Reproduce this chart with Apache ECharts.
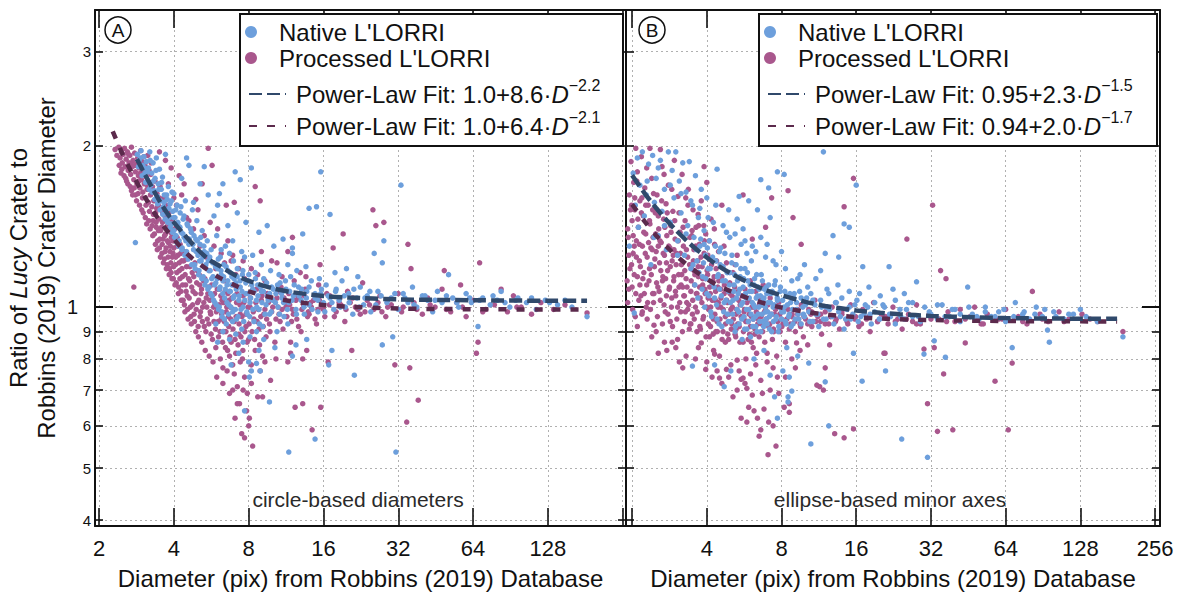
<!DOCTYPE html>
<html><head><meta charset="utf-8">
<script src="https://cdn.jsdelivr.net/npm/echarts@6/dist/echarts.min.js"></script>
<style>html,body{margin:0;padding:0;background:#fff}#c{width:1180px;height:597px}</style>
</head><body><div id="c"></div>
<script>
// ---------- tick values ----------
const xTicks = [2,4,8,16,32,64,128,256];
const xLabelsA = [2,4,8,16,32,64,128];
const xLabelsB = [4,8,16,32,64,128,256];
const yTicks = [0.4,0.5,0.6,0.7,0.8,0.9,1,2,3];
const yMajor = [1];

// ---------- panel A: circle-based diameters ----------
const procA = [
[2.32,1.97],[2.36,1.92],[2.4,1.99],[2.43,1.9],[2.46,1.95],[2.48,1.86],[2.5,1.93],[2.53,1.98],[2.55,1.83],[2.57,1.89],[2.6,1.95],[2.62,1.8],[2.64,1.86],[2.66,1.92],[2.68,1.77],[2.7,1.99],[2.72,1.83],[2.74,1.88],[2.76,1.73],[2.78,1.94],[2.8,1.79],[2.82,1.85],[2.84,1.7],[2.86,1.9],[2.88,1.76],[2.9,1.82],[2.92,1.67],[2.94,1.96],[2.96,1.73],[2.98,1.87],[3.0,1.64],[3.02,1.79],[3.04,1.7],[3.06,1.84],[3.08,1.6],[3.1,1.75],[3.12,1.66],[3.14,1.92],[3.16,1.57],[3.18,1.8],[3.2,1.71],[3.22,1.62],[3.24,1.86],[3.26,1.54],[3.28,1.68],
[2.45,1.78],[2.58,1.72],[2.7,1.65],[2.8,1.62],[2.76,1.09],
[3.3,1.45],[3.32,1.58],[3.34,1.37],[3.36,1.72],[3.38,1.5],[3.4,1.41],[3.42,1.63],[3.44,1.33],[3.46,1.55],[3.48,1.46],[3.5,1.29],[3.52,1.68],[3.54,1.39],[3.56,1.52],[3.58,1.26],[3.6,1.44],[3.62,1.34],[3.64,1.6],[3.66,1.23],[3.68,1.48],[3.7,1.37],[3.72,1.29],[3.74,1.55],[3.76,1.2],[3.78,1.42],[3.8,1.32],[3.82,1.5],[3.84,1.18],[3.86,1.27],[3.88,1.38],[3.9,1.16],[3.92,1.45],[3.94,1.24],[3.96,1.33],[3.98,1.13],[4.0,1.29],[4.03,1.4],[4.06,1.2],[4.09,1.11],[4.12,1.35],[4.15,1.25],[4.18,1.09],[4.21,1.17],[4.24,1.31],[4.27,1.07],[4.3,1.22],
[4.33,1.14],[4.36,1.03],[4.4,1.27],[4.43,0.98],[4.46,1.1],[4.5,1.19],[4.53,1.05],[4.56,0.95],[4.6,1.24],[4.63,1.12],[4.66,1.0],[4.7,0.93],[4.74,1.16],[4.78,1.07],[4.82,0.97],[4.86,1.21],[4.9,0.9],[4.94,1.11],[4.98,1.02],[5.02,0.88],[5.06,1.15],[5.1,0.96],[5.14,1.06],[5.18,0.86],[5.22,1.0],[5.26,1.12],[5.3,0.92],[5.35,0.83],[5.4,1.04],[5.45,0.95],[5.5,1.09],[5.55,0.81],[5.6,0.98],[5.65,0.89],[5.7,1.05],[5.75,0.79],[5.8,0.94],[5.85,1.01],[5.9,0.84],[5.95,0.74],
[4.1,1.55],[4.3,1.62],[4.5,1.47],[4.8,1.4],[5.0,1.52],[5.3,1.36],[5.6,1.44],[4.4,1.7],[3.9,1.82],[4.2,1.76],[3.7,1.88],[3.5,1.95],[5.8,1.3],[6.2,1.26],[6.6,1.33],[5.5,1.98],[5.7,1.84],[7.0,1.57],[8.5,1.68],[8.9,1.58],[6.8,1.22],
[6.0,0.99],[6.05,0.88],[6.1,1.08],[6.15,0.8],[6.2,0.95],[6.25,1.03],[6.3,0.72],[6.35,0.9],[6.4,1.12],[6.45,0.84],[6.5,0.98],[6.55,0.76],[6.6,1.06],[6.65,0.92],[6.7,0.69],[6.75,1.0],[6.8,0.86],[6.9,0.78],[6.95,1.1],[7.0,0.94],[7.05,0.62],[7.1,0.82],[7.15,1.02],[7.2,0.71],[7.3,0.89],[7.35,0.66],[7.4,0.97],[7.5,0.58],[7.55,0.8],[7.6,1.05],[7.7,0.74],[7.8,0.92],[7.85,0.64],[7.9,0.69],[8.0,0.87],[8.05,0.62],[8.1,1.0],[8.2,0.78],[8.3,0.55],[8.4,0.95],[8.5,0.83],[8.6,1.08],[8.7,0.68],[8.8,0.91],[8.9,0.76],[9.0,1.03],[9.1,0.81],[9.2,0.97],[9.4,0.88],[9.5,1.06],[9.7,0.93],[9.8,0.73],[10.0,1.0],[10.2,0.86],
[10.4,1.04],[10.6,0.97],[10.8,1.09],[11.0,0.91],[11.2,1.02],[11.5,0.79],[11.6,1.06],[11.8,0.82],[12.0,0.99],[12.2,1.12],[12.3,0.65],[12.5,0.95],[12.8,1.04],[13.0,0.9],[13.2,0.66],[13.3,1.01],[13.5,1.08],[13.7,0.83],[14.0,0.97],[14.4,0.59],[14.6,1.03],[15.0,0.93],[15.3,1.1],[15.6,0.65],[15.8,1.0],[16.2,0.96],[16.7,0.79],[17.0,1.05],[17.5,1.29],[18.0,0.98],[18.5,1.02],[19.2,1.37],[19.5,0.94],[20.0,1.07],[20.8,0.83],[21.5,1.0],[22.5,0.97],[23.0,1.11],[24.0,1.03],[25.3,1.52],[25.5,0.99],[26.0,1.42],[27.0,1.05],[28.0,1.44],[28.5,0.96],[30.0,1.01],[31.0,0.78],
[32.0,1.06],[33.0,0.98],[34.6,0.61],[35.0,1.31],[35.6,0.77],[36.0,1.18],[37.0,1.02],[38.5,0.67],[40.0,0.97],[42.0,1.04],[45.0,1.0],[48.0,1.08],[49.0,1.17],[52.0,0.98],[55.0,1.02],[57.0,1.1],[60.0,0.96],[64.0,1.03],[66.0,0.82],[67.0,0.86],[68.0,1.21],[72.0,0.99],[78.0,1.01],[83.0,1.08],[88.0,0.98],[93.0,1.05],[100.0,1.0],[110.0,0.97],[120.0,1.02],[135.0,0.99],[150.0,1.01],[184.0,0.975],
[10.5,1.07],[11.3,1.0],[12.6,1.05],[14.2,1.02],[15.2,0.99],[16.5,1.06],[18.8,1.01],[21.0,1.04],[23.5,0.98],[26.5,1.02],[29.0,1.0],[11.9,0.94],[13.8,0.96],[9.3,1.12],[8.7,1.15],[7.7,1.13],[7.3,1.18],[6.9,1.25],[10.9,1.14],[12.9,1.16],[15.5,1.2],[9.9,1.22],
[2.41,1.84],[2.47,1.81],[2.52,1.76],[2.56,1.74],[2.61,1.7],[2.63,1.93],[2.67,1.68],[2.69,1.85],[2.73,1.62],[2.77,1.67],[2.79,1.84],[2.83,1.58],[2.87,1.63],[2.89,1.72],[2.91,1.55],[2.93,1.78],[2.97,1.52],[2.99,1.6],[3.01,1.5],[3.03,1.91],[3.07,1.47],[3.09,1.55],[3.11,1.43],[3.13,1.69],[3.17,1.45],[3.19,1.51],[3.21,1.4],[3.23,1.77],[3.27,1.42],[3.29,1.36],[3.31,1.49],[3.33,1.64],[3.37,1.31],[3.39,1.44],[3.41,1.53],[3.43,1.28],[3.47,1.39],[3.49,1.6],[3.51,1.34],[3.53,1.24],[3.57,1.41],[3.59,1.31],[3.61,1.5],[3.63,1.21],[3.67,1.36],[3.69,1.27],[3.71,1.45],[3.73,1.18],[3.77,1.33],[3.79,1.24],[3.81,1.4],[3.83,1.15],[3.87,1.3],[3.89,1.21],[3.91,1.35],[3.93,1.13],[3.97,1.26],[3.99,1.19],[4.02,1.33],[4.04,1.1],[4.07,1.24],[4.11,1.16],[4.14,1.3],[4.17,1.06],[4.2,1.21],[4.23,1.13],[4.26,1.26],[4.29,1.03],[4.31,1.18],[4.34,1.1],[4.38,1.22],[4.41,1.01],[4.44,1.15],[4.48,1.07],[4.51,1.23],[4.54,0.99],[4.58,1.13],[4.61,1.04],[4.64,1.19],[4.68,0.96],[4.72,1.09],[4.76,1.01],[4.81,1.14],[4.84,0.94],[4.88,1.06],[4.92,0.99],[4.97,1.17],[5.01,0.92],[5.04,1.03],[5.08,1.1],[5.12,0.98],[5.17,1.08],[5.21,0.94],[5.28,1.02],[5.33,1.13],[5.38,0.9],[5.43,1.0],[5.48,1.06],[5.53,0.93],[5.58,1.03],[5.63,0.97],[5.68,1.1],[5.72,0.87],[5.78,1.0],[5.83,1.06],[5.88,0.91],[5.93,0.98],[5.98,1.08],[6.03,0.94],[6.08,1.01],[6.13,0.9],[6.18,1.05],[6.23,0.97],[6.28,0.86],[6.33,1.02],[6.38,0.94],[6.43,1.07],[6.48,0.9],[6.53,1.0],[6.58,0.83],[6.63,0.96],[6.68,1.03],[6.73,0.88],[6.78,0.95],[6.85,1.04],[6.92,0.91],[6.98,0.99],[7.05,0.87],[7.12,0.96],[7.18,1.06],[7.25,0.85],[7.32,0.93],[7.38,1.01],[7.45,0.88],[7.52,0.96],[7.58,0.83],[7.65,1.02],[7.72,0.9],[7.8,0.97],[7.88,0.86],[7.95,1.0],[8.03,0.93],[8.12,1.04],[8.25,0.9],[8.35,0.98],[8.45,0.87],[8.55,1.02],[8.65,0.94],[8.75,0.99],[8.85,0.85],[8.95,0.96],[9.05,1.05],[9.15,0.92],[9.3,0.99],[9.45,0.95],[9.6,1.02],[9.75,0.9],[9.9,0.98],[10.1,1.03],[10.3,0.95],[10.5,1.0],[10.7,0.94],[10.9,0.99],[11.1,1.04],[11.4,0.96],[11.7,1.01],[12.1,0.97],[12.4,1.03],[12.7,0.92],[13.1,0.99],[13.4,1.05],[13.9,0.98],[14.3,1.0],[14.8,0.95],[15.4,1.03],[16.0,0.99],[16.9,1.01],[17.7,0.96],[18.6,1.04],[19.7,0.99],[20.5,1.02],[22.0,0.99],[24.5,1.01],[27.5,0.98],[33.5,1.0],[38.0,0.99],[43.0,1.01],[50.0,0.99],[58.0,1.0],[70.0,0.98],[96.0,1.0],
[6.3,0.77],[6.7,0.81],[7.0,0.75],[7.4,0.79],[7.2,0.66],[7.6,0.7],[8.2,0.72],[8.0,0.6],[7.7,0.57],[6.9,0.7],[9.3,0.79],[10.3,0.8],[9.1,0.68],[11.8,0.86],[13.2,0.8],
[4.6,1.45],[5.1,1.3],[5.4,1.24],[5.9,1.18],[6.4,1.21],[7.1,1.15],[7.6,1.22],[8.2,1.18],[9.0,1.27],[10.4,1.21],[11.5,1.27],[12.0,1.35],[13.6,1.14],[4.9,1.59],[6.0,1.4],[5.2,1.7],[6.5,1.55],[4.0,1.6],[3.8,1.7]
];
const nativeA = [
[2.8,1.32],[2.85,1.93],[2.9,1.88],[2.95,1.96],[3.0,1.84],[3.03,1.91],[3.06,1.78],[3.1,1.87],[3.13,1.73],[3.16,1.82],[3.2,1.95],[3.23,1.69],[3.26,1.78],[3.3,1.86],[3.33,1.65],[3.36,1.74],[3.4,1.9],[3.43,1.61],[3.46,1.7],[3.5,1.81],[3.53,1.58],[3.56,1.66],[3.6,1.75],[3.63,1.54],[3.66,1.62],[3.7,1.93],[3.73,1.5],[3.76,1.59],[3.8,1.68],
[3.83,1.47],[3.86,1.56],[3.9,1.43],[3.93,1.64],[3.96,1.51],[4.0,1.39],[4.0,1.63],[4.04,1.47],[4.08,1.36],[4.12,1.55],[4.16,1.42],[4.2,1.33],[4.24,1.5],[4.28,1.38],[4.3,1.74],[4.32,1.29],[4.36,1.46],[4.4,1.35],[4.45,1.58],[4.5,1.27],[4.5,1.9],[4.55,1.42],[4.6,1.84],[4.6,1.31],[4.65,1.24],[4.7,1.38],[4.75,1.52],[4.8,1.28],[4.8,1.57],[4.85,1.2],[4.9,1.34],[4.95,1.45],[5.0,1.25],[5.05,1.17],[5.1,1.7],[5.1,1.31],[5.15,1.22],[5.2,1.39],[5.25,1.14],[5.3,1.83],[5.3,1.27],[5.35,1.19],[5.4,1.12],[5.45,1.33],[5.5,1.62],[5.5,1.22],
[5.55,1.09],[5.6,1.17],[5.65,1.28],[5.7,1.05],[5.75,1.14],[5.8,1.21],[5.85,1.02],[5.9,1.11],[5.95,1.36],[6.0,1.55],[6.0,1.18],[6.05,0.99],[6.1,1.63],[6.1,1.08],[6.15,1.24],[6.2,1.15],[6.25,0.96],[6.3,1.7],[6.3,1.12],[6.35,1.2],[6.4,1.04],[6.45,1.3],[6.5,0.93],[6.55,1.1],[6.6,1.17],[6.65,1.01],[6.7,1.26],[6.75,1.07],[6.8,0.78],[6.85,1.14],[6.9,0.98],[6.95,1.22],[7.06,1.79],[7.0,1.05],[7.1,1.11],[7.15,0.95],[7.2,1.18],[7.3,1.03],[7.4,1.73],[7.4,1.09],[7.5,0.91],[7.55,1.15],[7.6,1.0],[7.7,0.64],[7.7,1.24],[7.8,1.06],[7.9,0.97],[8.0,0.79],[8.0,1.12],[8.05,0.74],[8.1,1.02],[8.2,1.82],[8.2,0.76],[8.3,1.08],[8.4,0.94],[8.5,1.16],[8.6,0.785],[8.6,1.03],[8.7,1.1],[8.8,0.99],[8.9,0.76],[9.0,1.07],[9.1,0.92],[9.2,1.13],[9.4,1.01],[9.5,1.05],[9.7,0.665],[9.7,0.97],[9.9,1.09],[10.0,1.03],
[10.2,0.84],[10.3,1.06],[10.5,1.0],[10.7,1.11],[10.9,1.04],[11.1,0.96],[11.3,1.08],[11.6,0.536],[11.6,1.02],[11.8,1.14],[12.0,0.81],[12.0,1.29],[12.1,1.05],[12.4,0.85],[12.4,0.99],[12.7,1.09],[13.0,1.03],[13.2,1.37],[13.4,0.97],[13.7,0.87],[13.7,1.07],[14.0,1.53],[14.0,1.01],[14.3,1.12],[14.8,0.567],[14.8,1.04],[15.0,1.54],[15.2,0.98],[15.6,1.79],[15.6,1.06],[16.0,1.02],[16.4,1.1],[16.8,0.78],[17.0,1.49],[17.0,1.04],[17.3,0.83],[17.6,0.99],[18.0,1.08],[18.5,1.03],[19.0,1.12],[19.6,1.0],[20.2,1.06],[21.0,0.97],[21.3,0.746],[21.8,1.04],[22.5,1.09],[23.2,1.01],[24.0,1.05],[24.8,0.98],[25.6,1.26],[26.5,1.07],[27.6,1.21],[27.6,0.85],[28.0,1.33],[28.8,1.02],[30.0,1.04],[30.4,0.88],[31.3,0.536],[32.0,0.99],
[32.8,1.69],[33.5,1.06],[35.0,1.02],[36.5,1.09],[38.0,1.0],[40.0,1.05],[42.0,1.03],[44.0,0.98],[46.0,1.07],[48.0,1.02],[51.0,1.15],[53.0,1.04],[56.0,1.0],[60.0,1.06],[63.0,1.02],[67.0,0.92],[70.0,1.04],[75.0,1.01],[80.0,1.03],[83.0,1.07],[90.0,1.0],[97.0,1.04],[105.0,1.02],[115.0,0.99],[125.0,1.03],[140.0,1.01],[160.0,1.0],[184.0,0.96],
[6.2,1.28],[6.9,1.33],[7.5,1.27],[8.3,1.25],[9.0,1.2],[9.8,1.17],[10.6,1.15],[11.5,1.2],[12.5,1.17],[13.6,1.19],[15.4,1.13],[17.8,1.16],[19.8,1.18],[22.0,1.14],[12.0,1.26],[10.1,1.3],[8.8,1.38],[7.8,1.44],[7.2,1.5],[6.6,1.42],[5.8,1.48],[9.5,1.42],[11.0,1.34],
[2.88,1.83],[2.93,1.9],[2.98,1.76],[3.04,1.82],[3.08,1.71],[3.14,1.79],[3.18,1.66],[3.21,1.88],[3.27,1.64],[3.31,1.72],[3.35,1.59],[3.39,1.8],[3.44,1.56],[3.48,1.66],[3.52,1.52],[3.57,1.71],[3.61,1.49],[3.65,1.57],[3.69,1.46],[3.74,1.62],[3.78,1.44],[3.82,1.53],[3.87,1.41],[3.91,1.58],[3.95,1.38],[3.99,1.47],[4.03,1.35],[4.07,1.52],[4.11,1.32],[4.15,1.44],[4.19,1.3],[4.23,1.41],[4.27,1.54],[4.31,1.28],[4.35,1.37],[4.39,1.48],[4.43,1.25],[4.47,1.33],[4.52,1.43],[4.57,1.23],[4.62,1.34],[4.67,1.4],[4.72,1.2],[4.77,1.31],[4.82,1.36],[4.87,1.18],[4.92,1.27],[4.97,1.33],[5.03,1.15],[5.08,1.22],[5.13,1.35],[5.18,1.13],[5.23,1.24],[5.28,1.3],[5.33,1.1],[5.38,1.2],[5.43,1.26],[5.48,1.08],[5.53,1.17],[5.58,1.24],[5.63,1.06],[5.68,1.13],[5.73,1.21],[5.78,1.03],[5.83,1.1],[5.88,1.19],[5.93,1.01],[5.98,1.13],[6.04,1.23],[6.09,1.0],[6.14,1.09],[6.19,1.17],[6.24,0.98],[6.29,1.06],[6.34,1.14],[6.39,0.95],[6.44,1.08],[6.49,1.19],[6.54,1.02],[6.59,1.12],[6.64,0.97],[6.69,1.07],[6.74,1.16],[6.79,1.0],[6.84,1.1],[6.89,0.94],[6.94,1.04],[6.99,1.13],[7.07,0.99],[7.13,1.08],[7.19,1.14],[7.25,0.96],[7.33,1.05],[7.39,1.12],[7.45,0.99],[7.52,1.07],[7.58,1.17],[7.64,0.94],[7.72,1.03],[7.79,1.11],[7.86,0.98],[7.93,1.06],[8.01,1.15],[8.08,0.96],[8.15,1.04],[8.23,1.1],[8.32,0.99],[8.41,1.07],[8.52,1.13],[8.62,1.0],[8.72,1.05],[8.83,0.93],[8.93,1.09],[9.05,1.02],[9.17,1.07],[9.3,0.97],[9.45,1.11],[9.58,1.03],[9.72,1.06],[9.86,0.98],[10.05,1.08],[10.25,1.02],[10.45,1.1],[10.65,0.97],[10.85,1.06],[11.05,1.02],[11.25,1.12],[11.45,0.99],[11.7,1.07],[11.95,1.03],[12.2,1.1],[12.45,0.97],[12.75,1.05],[13.05,1.08],[13.35,1.0],[13.65,1.04],[14.0,1.09],[14.4,0.99],[14.8,1.06],[15.2,1.03],[15.7,1.08],[16.2,0.98],[16.7,1.05],[17.3,1.02],[17.9,1.07],[18.7,1.0],[19.4,1.05],[20.3,1.02],[21.2,1.08],[22.3,1.0],[23.5,1.04],[24.6,1.07],[26.0,1.01],[27.3,1.05],[29.0,1.03],[31.0,1.06],[34.0,1.04],[37.0,1.01],[41.0,1.05],[45.0,1.03],[50.0,1.05],[55.0,1.02],[62.0,1.04],[68.0,1.03],[77.0,1.05],[86.0,1.02],[95.0,1.03],[110.0,1.04],[130.0,1.02],[150.0,1.03],
[5.9,0.93],[6.3,0.9],[6.7,0.87],[7.1,0.89],[7.6,0.86],[8.1,0.88],[8.6,0.9],[9.2,0.87],[10.4,0.9],[11.5,0.93],[7.3,0.82],[8.8,0.83],[6.0,0.86]
];
// fitted curves
const fitNatA_D = [2.84,3,3.25,3.5,3.75,4,4.5,5,5.5,6,7,8,10,12,16,20,32,64,128,184];
const fitNatA_R = [1.89,1.80,1.68,1.58,1.50,1.44,1.35,1.28,1.23,1.20,1.15,1.12,1.084,1.066,1.049,1.042,1.034,1.030,1.028,1.028];
const fitProA_D = [2.27,2.5,2.75,3,3.5,4,4.5,5,6,7,8,10,12,16,20,32,64,128,184];
const fitProA_R = [2.13,1.92,1.76,1.63,1.45,1.34,1.26,1.21,1.14,1.10,1.07,1.041,1.025,1.009,1.002,0.994,0.991,0.990,0.990];

// ---------- panel B: ellipse-based minor axes ----------
const procB = [
[1.92,1.02],[1.93,1.35],[1.95,1.62],[1.96,1.18],[1.98,1.87],[2.0,1.45],[2.0,1.09],[2.02,1.26],[2.03,1.71],[2.05,1.52],[2.06,0.96],[2.07,1.98],[2.08,1.33],[2.1,1.14],[2.1,1.79],[2.12,1.41],[2.14,1.22],[2.15,1.58],[2.17,1.05],[2.18,1.91],[2.2,1.3],[2.22,1.48],[2.23,1.16],[2.25,1.67],[2.27,1.37],[2.28,1.0],[2.3,0.95],[2.3,1.24],[2.32,1.55],[2.34,1.12],[2.36,1.98],[2.36,1.43],[2.38,1.29],[2.4,1.74],[2.42,1.06],[2.43,1.35],[2.45,0.925],[2.46,1.19],[2.48,1.5],[2.5,0.9],[2.5,1.27],[2.52,1.62],[2.54,1.09],[2.56,1.4],[2.58,1.21],[2.6,1.97],[2.6,1.03],[2.62,1.32],[2.64,1.83],[2.66,1.14],[2.68,1.46],[2.7,1.25],[2.72,0.98],[2.74,1.56],[2.76,0.83],[2.76,1.36],[2.78,1.17],[2.8,1.69],[2.82,1.08],[2.84,1.29],[2.86,1.42],[2.88,1.0],[2.9,0.86],[2.9,1.22],[2.92,1.51],[2.94,1.12],[2.96,1.88],[2.98,1.34],
[3.0,1.05],[3.02,1.26],[3.05,0.87],[3.06,1.61],[3.08,1.15],[3.1,0.79],[3.12,1.38],[3.14,0.98],[3.16,1.2],[3.18,1.77],[3.2,1.09],[3.22,1.3],[3.25,0.94],[3.27,1.45],[3.3,1.13],[3.32,1.02],[3.35,1.24],[3.37,1.66],[3.4,0.91],[3.42,1.35],[3.45,1.07],[3.47,1.18],[3.5,0.97],[3.52,1.52],[3.55,1.28],[3.57,1.1],[3.6,1.0],[3.62,1.41],[3.65,0.9],[3.68,1.22],[3.7,0.84],[3.7,1.14],[3.73,1.31],[3.76,1.04],[3.8,0.857],[3.8,1.58],[3.83,1.19],[3.86,0.95],[3.9,1.26],[3.9,1.83],[3.93,1.08],[3.96,0.765],[3.96,1.37],[4.0,1.71],[4.0,1.0],[4.03,1.15],[4.06,0.93],[4.1,0.88],[4.1,1.23],[4.13,1.06],[4.16,1.46],[4.2,0.97],[4.23,1.12],[4.26,0.83],[4.3,0.817],[4.3,1.31],[4.33,1.03],[4.36,1.18],[4.4,0.76],[4.4,0.94],[4.43,1.09],[4.46,1.27],[4.5,0.81],[4.5,0.737],
[4.55,1.0],[4.6,1.55],[4.6,1.14],[4.65,0.9],[4.7,1.06],[4.75,0.96],[4.8,0.765],[4.8,1.21],[4.85,1.02],[4.9,0.87],[4.95,1.11],[5.0,0.78],[5.0,0.99],[5.05,0.93],[5.1,0.68],[5.1,1.16],[5.15,1.04],[5.2,0.89],[5.25,0.97],[5.3,0.796],[5.3,1.25],[5.35,1.07],[5.4,0.76],[5.4,0.92],[5.45,1.01],[5.5,0.733],[5.5,0.62],[5.55,1.13],[5.6,1.62],[5.6,0.86],[5.6,0.737],[5.65,0.98],[5.7,1.08],[5.75,0.8],[5.8,0.705],[5.8,0.61],[5.85,0.94],[5.9,0.65],[5.9,1.03],[5.95,0.89],[6.0,1.12],[6.05,0.96],[6.1,0.685],[6.1,1.34],[6.15,0.84],[6.2,0.64],[6.2,1.0],[6.25,0.91],[6.3,1.07],[6.35,0.82],[6.4,0.62],[6.4,0.97],[6.5,0.574],[6.5,0.88],[6.55,1.04],[6.6,0.59],[6.65,0.93],[6.7,0.69],[6.75,1.1],[6.8,0.645],[6.85,0.86],[6.9,1.41],[6.9,0.99],[7.0,0.79],[7.06,0.53],[7.1,0.61],[7.1,0.92],[7.2,0.7],[7.2,1.04],[7.3,1.6],[7.35,0.87],[7.4,0.6],[7.5,0.97],[7.6,0.55],[7.65,0.81],[7.7,0.74],[7.8,1.02],[7.9,0.9],
[8.0,0.95],[8.2,0.65],[8.3,0.86],[8.5,1.65],[8.5,0.99],[8.6,0.66],[8.6,0.636],[8.7,0.93],[8.9,1.47],[8.9,1.04],[9.1,0.77],[9.1,0.9],[9.2,0.857],[9.3,0.97],[9.6,1.31],[9.6,1.01],[9.8,0.88],[10.0,0.95],[10.3,0.99],[10.6,0.92],[10.9,1.03],[11.1,0.715],[11.2,0.96],[11.4,0.71],[11.6,0.89],[11.8,0.7],[12.0,0.77],[12.0,0.98],[12.4,0.93],[12.8,1.0],[13.1,0.58],[13.3,0.95],[13.7,0.91],[14.0,0.98],[14.3,0.57],[14.3,1.54],[14.7,0.94],[15.2,1.01],[15.6,0.592],[15.6,1.74],[15.9,0.96],[16.4,0.92],[17.0,0.99],[17.6,0.95],[18.2,0.9],[18.8,1.02],[19.5,0.94],[20.2,0.97],[20.7,0.82],[20.9,0.82],[21.5,0.93],[22.5,1.0],[23.5,0.95],[24.5,0.91],[25.6,1.34],[26.0,0.97],[27.0,0.94],[28.0,1.01],[29.0,0.93],[30.0,0.835],
[31.0,0.66],[31.5,0.97],[32.5,1.55],[33.0,0.84],[34.0,0.586],[34.5,0.95],[35.0,1.17],[36.0,0.75],[36.8,1.13],[37.5,0.98],[39.2,0.59],[40.0,0.94],[42.0,0.99],[44.0,0.857],[46.0,0.96],[48.0,1.0],[51.0,0.93],[54.0,0.97],[58.0,0.727],[60.0,0.95],[64.0,0.99],[65.6,0.59],[68.0,0.786],[72.0,0.96],[78.0,0.93],[82.0,1.07],[88.0,0.97],[95.0,0.94],[105.0,0.98],[115.0,0.95],[130.0,0.97],[150.0,0.94],[190.0,0.9],
[2.15,1.1],[2.35,1.18],[2.55,1.3],[2.75,1.05],[2.95,1.28],[3.15,1.1],[3.35,0.99],[3.55,1.17],[3.75,0.92],[3.95,1.13],[4.15,1.0],[4.35,0.9],[4.55,1.08],[4.75,0.86],[5.05,1.05],[5.25,0.91],[5.65,0.95],[6.05,0.86],[6.45,0.95],[6.95,0.93],[7.45,0.9],[8.1,0.93],[8.8,0.96],[9.5,0.93],[10.5,0.97],[11.5,0.94],[2.2,0.98],[2.45,1.06],[2.65,1.12],[2.85,0.94],[3.05,1.0],[3.25,1.05],[3.45,0.93],[3.65,1.06],[3.85,1.1],[4.05,1.04],[4.25,0.95],[4.45,1.02],[1.94,1.25],[1.99,1.55],[2.04,1.3],[2.09,1.72],[2.19,1.6],[2.29,1.82],[2.44,1.63],[2.69,1.77],[2.89,1.66],[3.09,1.5],[3.29,1.6],[3.49,1.39],[3.69,1.49],[3.89,1.42],[4.09,1.33],[4.29,1.4],[4.69,1.3],[5.2,1.2],
[1.91,1.12],[1.92,1.4],[1.94,1.08],[1.97,1.52],[1.99,1.2],[2.01,0.99],[2.02,1.36],[2.04,1.15],[2.05,1.6],[2.07,1.06],[2.08,1.24],[2.11,1.46],[2.13,1.03],[2.14,1.31],[2.16,1.19],[2.18,1.5],[2.19,0.97],[2.21,1.13],[2.23,1.38],[2.24,1.06],[2.26,1.26],[2.27,1.55],[2.29,1.1],[2.31,1.02],[2.33,1.32],[2.35,1.45],[2.37,0.99],[2.39,1.15],[2.41,1.28],[2.42,1.52],[2.44,1.02],[2.47,1.23],[2.49,1.37],[2.51,1.11],[2.53,0.96],[2.55,1.48],[2.57,1.07],[2.59,1.33],[2.61,1.17],[2.63,1.58],[2.65,0.93],[2.67,1.26],[2.69,1.01],[2.71,1.41],[2.73,1.13],[2.75,1.21],[2.77,1.5],[2.79,0.97],[2.81,1.3],[2.83,1.09],[2.85,1.19],[2.87,1.38],[2.89,1.04],[2.91,0.92],[2.93,1.25],[2.95,1.14],[2.97,1.45],[2.99,1.07],[3.01,1.2],[3.03,0.95],[3.07,1.33],[3.09,1.09],[3.11,1.02],[3.13,1.26],[3.17,1.15],[3.19,0.9],[3.21,1.41],[3.23,1.05],[3.26,1.17],[3.28,0.98],[3.31,1.28],[3.33,1.09],[3.36,1.55],[3.38,1.01],[3.41,1.2],[3.43,0.93],[3.46,1.12],[3.48,1.36],[3.51,1.03],[3.53,1.22],[3.56,0.95],[3.58,1.15],[3.61,1.3],[3.63,1.06],[3.66,0.98],[3.69,1.19],[3.71,1.42],[3.74,1.09],[3.77,0.91],[3.79,1.24],[3.82,1.02],[3.85,1.13],[3.88,0.96],[3.91,1.33],[3.94,1.06],[3.97,0.88],[4.01,1.17],[4.04,1.25],[4.07,0.99],[4.11,1.09],[4.14,0.92],[4.18,1.2],[4.21,1.03],[4.24,0.89],[4.28,1.14],[4.31,0.97],[4.34,1.07],[4.38,1.22],[4.41,0.9],[4.44,1.0],[4.47,1.12],[4.52,0.95],[4.56,1.04],[4.61,0.87],[4.66,0.99],[4.71,1.1],[4.76,0.93],[4.81,1.03],[4.86,0.89],[4.91,0.97],[4.96,1.06],[5.02,0.91],[5.07,1.0],[5.12,0.95],[5.18,1.09],[5.23,0.88],[5.28,0.99],[5.33,0.93],[5.38,1.03],[5.44,0.86],[5.5,0.96],[5.56,1.05],[5.62,0.9],[5.68,0.99],[5.74,0.94],[5.81,1.02],[5.87,0.87],[5.93,0.97],[6.0,0.92],[6.08,1.0],[6.16,0.95],[6.24,0.89],[6.33,0.98],[6.42,0.93],[6.52,1.01],[6.62,0.96],[6.72,0.9],[6.83,0.98],[6.94,0.95],[7.05,1.01],[7.17,0.93],[7.3,0.97],[7.43,0.91],[7.57,0.99],[7.72,0.94],[7.87,0.97],[8.03,0.92],[8.2,0.99],[8.4,0.95],[8.6,0.91],[8.82,0.97],[9.05,0.94],[9.3,0.99],[9.55,0.92],[9.85,0.96],[10.2,0.93],[10.6,0.98],[11.0,0.94],[11.5,0.97],[12.0,0.93],[12.6,0.96],[13.2,0.94],[14.0,0.97],[14.8,0.93],[15.8,0.95],[16.8,0.93],[18.0,0.96],[19.5,0.94],[21.0,0.96],[23.0,0.94],[25.5,0.95],[28.0,0.93],[32.0,0.95],[37.0,0.94],[44.0,0.95],[52.0,0.93],[62.0,0.95],[75.0,0.94],[90.0,0.95],[110.0,0.94],[140.0,0.95],
[2.1,0.92],[2.4,0.88],[2.7,0.86],[3.0,0.84],[3.3,0.81],[3.6,0.8],[4.0,0.79],[4.2,0.74],[4.6,0.72],[4.9,0.74],[5.3,0.7],[5.7,0.72],[6.0,0.75],[6.3,0.78],[6.6,0.73],[7.0,0.82],[7.4,0.77],[7.8,0.69],[8.3,0.74],[8.8,0.8],[9.5,0.83],[10.2,0.85],[12.5,0.85],[3.2,0.77],[2.55,0.82]
];
const nativeB = [
[1.95,1.3],[2.02,1.78],[2.04,0.975],[2.06,1.55],[2.1,1.9],[2.12,1.41],[2.15,1.69],[2.2,1.95],[2.24,1.48],[2.28,1.62],[2.33,1.85],[2.38,1.2],[2.42,1.92],[2.46,1.57],[2.5,1.74],[2.55,1.36],[2.6,1.88],[2.64,1.51],[2.7,1.66],[2.75,1.28],[2.8,1.95],[2.85,1.44],[2.9,1.8],[2.95,1.6],[3.0,1.95],[3.05,1.33],[3.1,1.72],[3.15,1.5],[3.2,1.86],[3.25,1.25],[3.3,1.64],[3.35,1.42],[3.4,1.87],[3.45,1.18],[3.5,0.776],[3.5,1.55],[3.55,1.35],[3.6,1.76],[3.65,1.22],[3.7,1.47],[3.75,1.3],[3.8,1.66],[3.85,1.14],[3.9,1.39],[3.95,1.25],[4.0,1.6],[4.0,1.06],
[4.05,1.18],[4.1,1.33],[4.15,0.98],[4.2,1.11],[4.25,1.44],[4.3,0.78],[4.3,1.04],[4.35,1.22],[4.4,1.81],[4.4,0.95],[4.45,1.15],[4.5,1.08],[4.55,1.29],[4.6,0.92],[4.65,1.19],[4.7,0.71],[4.7,1.02],[4.75,1.12],[4.8,1.38],[4.85,0.97],[4.9,1.52],[4.9,1.07],[4.95,1.16],[5.0,0.76],[5.0,0.94],[5.05,1.25],[5.1,1.03],[5.15,1.1],[5.2,0.9],[5.25,1.2],[5.3,1.46],[5.3,0.99],[5.35,1.06],[5.4,1.61],[5.4,0.93],[5.45,1.14],[5.5,1.01],[5.55,0.87],[5.6,1.4],[5.6,1.09],[5.65,0.96],[5.7,1.18],[5.75,1.04],[5.8,0.91],[5.85,1.12],[5.9,1.58],[5.9,0.99],[5.95,1.07],[6.0,0.88],[6.05,1.22],[6.1,1.02],[6.15,0.95],[6.2,0.8],[6.2,1.1],[6.25,1.0],[6.3,0.92],[6.35,1.15],[6.4,1.52],[6.4,1.05],[6.45,0.97],[6.5,1.08],[6.6,1.73],[6.6,1.35],[6.6,0.9],[6.65,1.01],[6.7,1.12],[6.75,0.94],[6.8,0.83],[6.8,1.04],[6.9,0.98],[6.95,1.09],[7.0,1.31],[7.0,0.93],[7.05,1.02],[7.1,1.67],[7.15,0.96],[7.2,1.47],[7.2,0.746],[7.25,1.06],[7.3,0.9],[7.4,1.0],[7.5,0.68],[7.5,1.1],[7.6,0.95],[7.7,1.79],[7.7,0.62],[7.7,1.03],[7.8,0.92],[7.9,1.07],[8.0,0.98],[8.1,0.76],[8.2,1.77],[8.2,1.0],[8.3,0.94],[8.4,0.84],[8.4,1.05],[8.5,0.665],[8.5,0.68],[8.6,0.74],[8.6,0.97],[8.7,1.02],[8.8,0.697],[8.9,0.93],[9.0,1.06],[9.2,0.99],[9.3,0.81],[9.4,0.95],[9.6,1.04],[9.8,0.97],[10.0,1.01],
[10.3,0.786],[10.4,0.94],[10.5,0.555],[10.7,1.03],[11.0,0.97],[11.3,0.92],[11.6,1.0],[11.8,1.95],[12.0,0.725],[12.0,1.26],[12.1,0.95],[12.4,0.6],[12.5,0.99],[12.9,1.36],[13.0,0.93],[13.3,1.02],[13.6,1.24],[13.8,0.96],[14.3,1.43],[14.3,0.91],[14.7,0.99],[15.0,1.41],[15.2,0.95],[15.6,0.82],[15.8,1.01],[16.0,1.69],[16.3,0.94],[16.9,0.727],[17.0,1.19],[17.2,0.97],[17.8,1.0],[18.4,0.93],[19.0,0.98],[19.8,0.95],[20.5,1.01],[21.0,0.76],[21.7,1.19],[22.0,0.96],[23.0,0.93],[24.0,0.99],[24.4,0.567],[25.0,0.95],[26.0,1.02],[27.0,0.96],[28.0,1.115],[29.0,0.94],[30.0,0.817],[31.0,0.524],[31.5,0.98],[33.0,0.865],[34.0,0.95],[35.5,1.01],[36.6,0.806],[38.0,0.96],[40.0,0.99],
[42.0,0.94],[45.0,1.09],[47.0,0.97],[50.0,0.95],[53.0,1.0],[56.0,0.96],[60.0,0.98],[64.0,0.94],[68.0,0.84],[70.0,1.02],[75.0,0.97],[80.0,0.95],[85.0,1.0],[90.0,0.96],[94.4,0.906],[96.0,0.86],[100.0,0.98],[110.0,0.95],[120.0,0.97],[135.0,0.96],[150.0,0.94],[190.0,0.88],
[8.8,1.12],[9.5,1.15],[10.2,1.09],[11.0,1.13],[12.2,1.08],[13.5,1.1],[15.0,1.07],[16.5,1.06],[18.0,1.09],[20.0,1.05],[22.5,1.08],[25.0,1.06],[9.9,1.2],[11.5,1.17],[7.4,1.22],[8.0,1.27],[6.3,1.27],[5.5,1.31],[4.95,1.35],[5.8,1.26],
[3.52,1.2],[3.58,1.1],[3.63,1.28],[3.68,1.04],[3.72,1.16],[3.78,1.34],[3.83,1.08],[3.88,1.21],[3.92,1.0],[3.97,1.13],[4.02,1.29],[4.08,1.05],[4.13,1.18],[4.18,0.96],[4.22,1.24],[4.28,1.09],[4.33,1.3],[4.38,1.01],[4.42,1.14],[4.48,0.93],[4.53,1.2],[4.58,1.05],[4.63,1.12],[4.68,0.98],[4.73,1.26],[4.78,1.03],[4.83,1.16],[4.88,0.94],[4.93,1.1],[4.98,1.02],[5.04,1.21],[5.08,0.97],[5.13,1.07],[5.18,1.15],[5.22,0.92],[5.27,1.04],[5.32,1.12],[5.38,0.98],[5.43,1.08],[5.48,1.18],[5.53,0.95],[5.58,1.02],[5.63,1.13],[5.68,0.91],[5.73,1.06],[5.78,0.99],[5.83,1.16],[5.88,0.94],[5.93,1.04],[5.98,1.1],[6.03,0.97],[6.08,1.07],[6.13,0.92],[6.18,1.01],[6.23,1.13],[6.28,0.96],[6.33,1.04],[6.38,0.9],[6.43,1.09],[6.48,1.0],[6.53,0.94],[6.58,1.05],[6.63,1.15],[6.68,0.97],[6.73,1.03],[6.78,0.92],[6.83,1.08],[6.88,1.0],[6.93,0.95],[6.98,1.06],[7.04,0.98],[7.1,1.1],[7.16,0.91],[7.22,1.02],[7.28,0.97],[7.34,1.07],[7.42,0.94],[7.48,1.01],[7.55,1.12],[7.62,0.96],[7.69,1.04],[7.76,0.9],[7.84,1.0],[7.92,1.09],[8.0,0.95],[8.08,1.03],[8.16,0.98],[8.25,1.07],[8.35,0.93],[8.45,1.01],[8.55,0.96],[8.65,1.06],[8.75,0.92],[8.85,0.99],[8.96,1.04],[9.08,0.95],[9.2,1.02],[9.33,0.97],[9.46,1.07],[9.6,0.93],[9.75,1.0],[9.9,0.96],[10.1,1.04],[10.3,0.98],[10.5,1.06],[10.7,0.94],[10.9,1.01],[11.2,0.97],[11.5,1.03],[11.8,0.95],[12.1,1.0],[12.4,1.06],[12.8,0.96],[13.2,1.02],[13.6,0.98],[14.0,1.04],[14.5,0.95],[15.0,1.0],[15.5,0.97],[16.1,1.03],[16.7,0.96],[17.4,1.01],[18.2,0.97],[19.0,1.02],[19.9,0.95],[20.8,1.0],[21.8,0.97],[23.0,1.03],[24.2,0.96],[25.5,0.99],[27.0,1.02],[28.5,0.96],[30.2,1.0],[32.0,0.97],[34.0,1.01],[36.5,0.96],[39.0,0.99],[42.0,0.97],[45.5,1.0],[49.0,0.96],[53.0,0.98],[58.0,0.96],[63.0,0.99],[69.0,0.96],[76.0,0.98],[84.0,0.97],[92.0,0.99],[102.0,0.96],[115.0,0.97],[128.0,0.99],
[2.3,1.72],[2.55,1.82],[2.85,1.69],[3.15,1.63],[3.45,1.58],[3.75,1.53],[4.05,1.47],[4.35,1.55],[4.65,1.42],[5.2,1.37],[5.7,1.33],[6.1,1.3],[6.9,1.24],[7.6,1.2],[8.3,1.18],[9.3,1.13],[2.7,1.42],[3.3,1.37],[3.9,1.31],[4.5,1.27],[2.45,1.35],[3.05,1.25]
];
const fitNatB_D = [2,2.25,2.5,2.75,3,3.5,4,4.5,5,6,7,8,10,12,16,20,24,32,48,64,100,180];
const fitNatB_R = [1.763,1.63,1.532,1.455,1.393,1.301,1.238,1.19,1.156,1.106,1.074,1.052,1.023,1.005,0.986,0.976,0.970,0.963,0.957,0.954,0.952,0.951];
const fitProB_D = [2,2.25,2.5,2.75,3,3.5,4,4.5,5,6,7,8,10,12,16,20,32,64,100,180];
const fitProB_R = [1.556,1.445,1.361,1.298,1.249,1.178,1.129,1.094,1.070,1.035,1.013,0.998,0.980,0.969,0.958,0.952,0.946,0.942,0.941,0.940];

const legendLabels = {
  fitNA: ['1.0+8.6\u00b7', '\u22122.2'],
  fitPA: ['1.0+6.4\u00b7', '\u22122.1'],
  fitNB: ['0.95+2.3\u00b7', '\u22121.5'],
  fitPB: ['0.94+2.0\u00b7', '\u22121.7']
};

// ---------- styling ----------
const FONT = '"Liberation Sans", Arial, Helvetica, sans-serif';
const BLUE = '#6d9fdc', PURPLE = '#a9578d', NAVY = '#30496b', PLUM = '#5b2a4c', INK = '#111';
const zip = (a, b) => a.map((v, i) => [v, b[i]]);

function xAx(grid, pos, min, max, labels, name) {
  return {
    type: 'log', logBase: 2, gridIndex: grid, position: pos, min: min, max: max, splitNumber: 8,
    axisLine: {show: true, onZero: false, lineStyle: {color: INK, width: 2}},
    axisTick: {show: true, inside: true, length: 18, customValues: xTicks, lineStyle: {color: INK, width: 1.6}},
    axisLabel: labels ? {show: true, customValues: labels, margin: 11, fontSize: 22, color: INK, fontFamily: FONT,
      formatter: v => String(Math.round(v))} : {show: false},
    splitLine: {show: pos === 'bottom', lineStyle: {color: '#b0b0b0', type: [2, 3], width: 1}},
    name: name || '', nameLocation: 'middle', nameGap: 40,
    nameTextStyle: {fontSize: 24, color: INK, fontFamily: FONT}
  };
}
function yAx(grid, pos, opts) {
  const o = opts || {};
  return {
    type: 'log', logBase: 10, gridIndex: grid, position: pos, min: 0.39, max: 3.59,
    axisLine: {show: !o.major, onZero: false, lineStyle: {color: INK, width: 2}},
    axisTick: {show: true, inside: true, length: o.major ? 18 : 8, customValues: o.major ? yMajor : yTicks,
      lineStyle: {color: INK, width: o.major ? 2 : 1.6}},
    axisLabel: o.labels ? {
      show: true, customValues: yTicks, margin: 4, color: INK, fontFamily: FONT,
      formatter: v => Math.abs(v - 1) < 1e-6 ? '{b|1}' : (v < 1 ? '{s|' + Math.round(v * 10) + '}' : '{s|' + Math.round(v) + '}'),
      rich: {b: {fontSize: 20, fontFamily: FONT, color: INK, padding: [0, 13, 0, 0]},
             s: {fontSize: 15, fontFamily: FONT, color: INK}}
    } : {show: false},
    splitLine: {show: !!o.split, lineStyle: {color: '#b0b0b0', type: [2, 3], width: 1}},
    name: o.name || '', nameLocation: 'middle', nameRotate: 90, nameGap: 35,
    nameTextStyle: {
      fontFamily: FONT, color: INK, fontSize: 24, lineHeight: 28,
      rich: {n: {fontSize: 24, lineHeight: 28, fontFamily: FONT, color: INK},
             i: {fontSize: 24, lineHeight: 28, fontFamily: FONT, color: INK, fontStyle: 'italic'}}
    }
  };
}
const scatterStyle = c => ({type: 'scatter', symbolSize: 5.5, itemStyle: {color: c, opacity: 1}, silent: true, z: 2});
const lineStyle = (c, dash) => ({type: 'line', symbol: 'none', showSymbol: false, smooth: 0.3, silent: true, z: 3,
  lineStyle: {color: c, width: 4.5, type: dash}, itemStyle: {color: c}});

function scatterLegend(left) {
  return {data: ["Native L'LORRI", "Processed L'LORRI"], orient: 'vertical', left: left, top: 19, padding: 0,
    itemGap: 0, itemWidth: 46, itemHeight: 12, icon: 'circle', selectedMode: false, z: 10,
    textStyle: {fontSize: 24, lineHeight: 26, fontFamily: FONT, color: INK}};
}
function lineLegend(name, left, top) {
  return {data: [name], orient: 'vertical', left: left, top: top, padding: 0, itemWidth: 37, itemHeight: 12,
    selectedMode: false, z: 10, itemStyle: {opacity: 0},
    formatter: n => '{a|Power-Law Fit: ' + legendLabels[n][0] + '}{i|D}{s|' + legendLabels[n][1] + '}',
    textStyle: {fontSize: 24, fontFamily: FONT, color: INK,
      rich: {a: {fontSize: 24, lineHeight: 34, fontFamily: FONT, color: INK, padding: [0, 0, 0, 5]},
             i: {fontSize: 24, lineHeight: 34, fontFamily: FONT, color: INK, fontStyle: 'italic'},
             s: {fontSize: 16, lineHeight: 14, fontFamily: FONT, color: INK, verticalAlign: 'top'}}}};
}

const chart = echarts.init(document.getElementById('c'), null, {renderer: 'svg', width: 1180, height: 597});
const XNAME = 'Diameter (pix) from Robbins (2019) Database';
chart.setOption({
  animation: false,
  backgroundColor: '#fff',
  grid: [
    {left: 95, top: 10, width: 531, height: 516, containLabel: false, outerBoundsMode: 'none'},
    {left: 626, top: 10, width: 534, height: 516, containLabel: false, outerBoundsMode: 'none'}
  ],
  xAxis: [
    xAx(0, 'bottom', 1.926, 264, xLabelsA, XNAME),
    xAx(1, 'bottom', 1.89, 268, xLabelsB, XNAME),
    xAx(0, 'top', 1.926, 264, null, ''),
    xAx(1, 'top', 1.89, 268, null, '')
  ],
  yAxis: [
    yAx(0, 'left', {labels: true, split: true,
      name: '{n|Ratio of }{i|Lucy}{n| Crater to}\n{n|Robbins (2019) Crater Diameter}'}),
    yAx(1, 'left', {split: true}),
    yAx(0, 'right', {}),
    yAx(1, 'right', {}),
    yAx(0, 'left', {major: true}),
    yAx(1, 'left', {major: true}),
    yAx(0, 'right', {major: true}),
    yAx(1, 'right', {major: true})
  ],
  legend: [
    scatterLegend(245),
    lineLegend('fitNA', 248, 77),
    lineLegend('fitPA', 248, 109),
    scatterLegend(764),
    lineLegend('fitNB', 767, 77),
    lineLegend('fitPB', 767, 109)
  ],
  graphic: [
    {type: 'rect', z: 8, shape: {x: 240, y: 14, width: 383, height: 132}, style: {fill: '#fff', stroke: INK, lineWidth: 2}},
    {type: 'rect', z: 8, shape: {x: 759, y: 14, width: 398, height: 132}, style: {fill: '#fff', stroke: INK, lineWidth: 2}},
    {type: 'circle', z: 9, shape: {cx: 118, cy: 30, r: 13}, style: {fill: '#fff', stroke: INK, lineWidth: 1.5}},
    {type: 'text', z: 10, x: 118, y: 30, style: {text: 'A', fontSize: 19, fontFamily: FONT, fill: INK, align: 'center', verticalAlign: 'middle'}},
    {type: 'circle', z: 9, shape: {cx: 652, cy: 30, r: 13}, style: {fill: '#fff', stroke: INK, lineWidth: 1.5}},
    {type: 'text', z: 10, x: 652, y: 30, style: {text: 'B', fontSize: 19, fontFamily: FONT, fill: INK, align: 'center', verticalAlign: 'middle'}},
    {type: 'text', z: 10, x: 358, y: 499, style: {text: 'circle-based diameters', fontSize: 21, fontFamily: FONT, fill: '#2a2a2a', align: 'center', verticalAlign: 'middle'}},
    {type: 'text', z: 10, x: 890, y: 499, style: {text: 'ellipse-based minor axes', fontSize: 21, fontFamily: FONT, fill: '#2a2a2a', align: 'center', verticalAlign: 'middle'}}
  ],
  series: [
    Object.assign(scatterStyle(PURPLE), {name: "Processed L'LORRI", xAxisIndex: 0, yAxisIndex: 0, data: procA}),
    Object.assign(scatterStyle(BLUE), {name: "Native L'LORRI", xAxisIndex: 0, yAxisIndex: 0, data: nativeA}),
    Object.assign(lineStyle(PLUM, [8, 10]), {name: 'fitPA', xAxisIndex: 0, yAxisIndex: 0, data: zip(fitProA_D, fitProA_R)}),
    Object.assign(lineStyle(NAVY, [13, 5]), {name: 'fitNA', xAxisIndex: 0, yAxisIndex: 0, data: zip(fitNatA_D, fitNatA_R)}),
    Object.assign(scatterStyle(PURPLE), {name: "Processed L'LORRI", xAxisIndex: 1, yAxisIndex: 1, data: procB}),
    Object.assign(scatterStyle(BLUE), {name: "Native L'LORRI", xAxisIndex: 1, yAxisIndex: 1, data: nativeB}),
    Object.assign(lineStyle(PLUM, [8, 10]), {name: 'fitPB', xAxisIndex: 1, yAxisIndex: 1, data: zip(fitProB_D, fitProB_R)}),
    Object.assign(lineStyle(NAVY, [13, 5]), {name: 'fitNB', xAxisIndex: 1, yAxisIndex: 1, data: zip(fitNatB_D, fitNatB_R)})
  ]
});
</script>
</body></html>
